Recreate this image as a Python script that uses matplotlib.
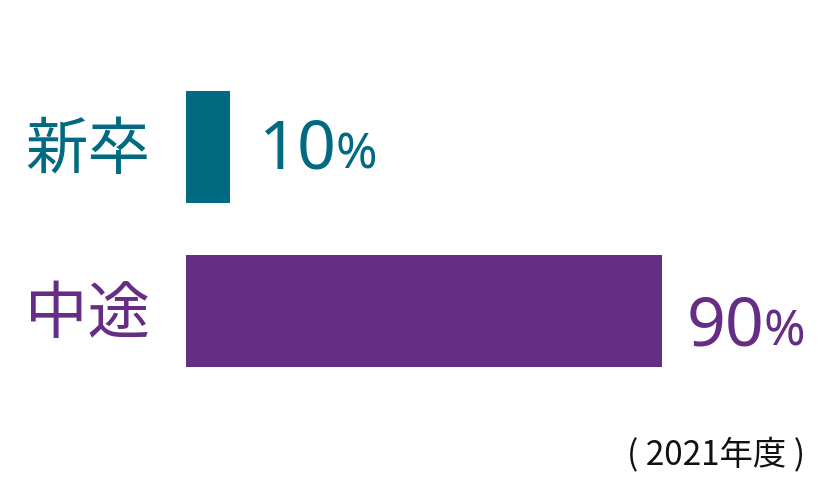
import matplotlib
matplotlib.use("Agg")
import matplotlib.pyplot as plt

plt.rcParams["font.family"] = ["Noto Sans CJK JP", "DejaVu Sans"]

categories = ["新卒", "中途"]
values     = [10, 90]
colors     = ["#006A80", "#652D83"]
note       = "( 2021年度 )"

W, H = 832, 502
fig = plt.figure(figsize=(W / 100, H / 100), dpi=100)

# axes span the bar area: left edge 186px, 90% bar ends at 662px
ax = fig.add_axes([186 / W, (H - 368) / H, (662 - 186) / W, 276 / H])
ax.set_xlim(1.85, 90)
ax.set_ylim(1 + 0.3415, -0.3415)
ax.axis("off")

pos = list(range(len(categories)))
ax.barh(pos, [v - 1.85 for v in values], left=1.85, height=0.683, color=colors)

# offsets (points) of value labels from bar end, baseline aligned
val_dx = [21, 18]
val_dy = [-14.5, -24]
num_font = ["Noto Sans", "DejaVu Sans"]

fig.canvas.draw()
renderer = fig.canvas.get_renderer()

for i, (cat, v, c) in enumerate(zip(categories, values, colors)):
    ax.annotate(cat, xy=(1.85, i), xytext=(-26, -2), textcoords="offset points",
                ha="right", va="center", fontsize=45, color=c,
                annotation_clip=False)
    t = ax.annotate(f"{v}", xy=(v, i), xytext=(val_dx[i], val_dy[i]),
                    textcoords="offset points", ha="left", va="baseline",
                    fontsize=49, color=c, family=num_font,
                    annotation_clip=False)
    w_pt = t.get_window_extent(renderer).width * 72 / fig.dpi
    ax.annotate("%", xy=(v, i), xytext=(val_dx[i] + w_pt - 1, val_dy[i]),
                textcoords="offset points", ha="left", va="baseline",
                fontsize=36, color=c, family=num_font,
                annotation_clip=False)

fig.text(805 / W, 1 - 455 / H, note, ha="right", va="center",
         fontsize=24, color="#111111")

fig.savefig("out.png", dpi=100)
